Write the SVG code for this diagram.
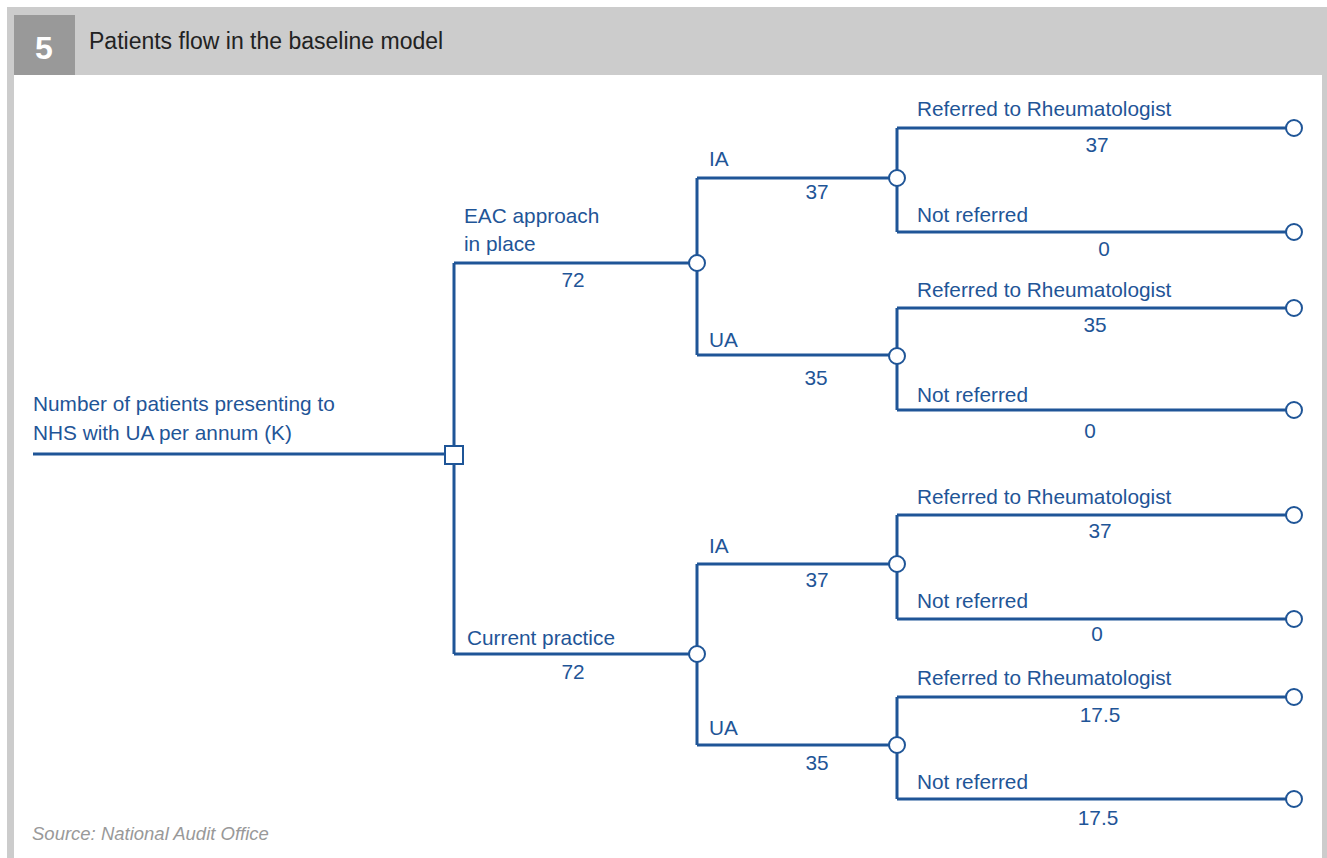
<svg xmlns="http://www.w3.org/2000/svg" width="1327" height="858" viewBox="0 0 1327 858">
<style>
.t{font-family:"Liberation Sans",Arial,sans-serif;font-size:20.8px;fill:#1f5597}
.m{text-anchor:middle}
.ln{stroke:#1f5597;stroke-width:3;fill:none}
.nd{stroke:#1f5597;stroke-width:2;fill:#fff}
</style>
<rect x="0" y="0" width="1327" height="858" fill="#fff"/>
<rect x="7" y="7" width="1320" height="68" fill="#cccccc"/>
<rect x="7" y="75" width="7" height="783" fill="#cccccc"/>
<rect x="1322" y="75" width="5" height="783" fill="#cccccc"/>
<rect x="14" y="15" width="61" height="60" fill="#999999"/>
<text x="44" y="59" text-anchor="middle" font-family="Liberation Sans,Arial,sans-serif" font-weight="bold" font-size="32" fill="#fff">5</text>
<text x="89" y="49" font-family="Liberation Sans,Arial,sans-serif" font-size="23" fill="#222">Patients flow in the baseline model</text>
<g id="connectors">
<path class="ln" d="M33 454H445 M454 263V654 M454 263H689 M454 654H689"/>
<path class="ln" d="M697 178V355 M697 178H889 M697 355H889 M697 564V745 M697 564H889 M697 745H889"/>
<path class="ln" d="M897 128V232 M897 128H1286 M897 232H1286 M897 308V410 M897 308H1286 M897 410H1286 M897 515V619 M897 515H1286 M897 619H1286 M897 697V799 M897 697H1286 M897 799H1286"/>
</g>
<g id="root"><rect class="nd" x="445" y="446" width="18" height="18"/>
<text class="t" x="33" y="411">Number of patients presenting to</text>
<text class="t" x="33" y="440">NHS with UA per annum (K)</text></g>
<g id="eac"><circle class="nd" cx="697" cy="263" r="8"/>
<text class="t" x="464" y="223">EAC approach</text><text class="t" x="464" y="251">in place</text><text class="t m" x="573" y="287">72</text></g>
<g id="current"><circle class="nd" cx="697" cy="654" r="8"/>
<text class="t" x="467" y="645">Current practice</text><text class="t m" x="573" y="679">72</text></g>
<g id="eac-ia"><circle class="nd" cx="897" cy="178" r="8"/>
<text class="t" x="709" y="166">IA</text><text class="t m" x="817" y="199">37</text></g>
<g id="eac-ua"><circle class="nd" cx="897" cy="356" r="8"/>
<text class="t" x="709" y="347">UA</text><text class="t m" x="816" y="385">35</text></g>
<g id="cur-ia"><circle class="nd" cx="897" cy="564" r="8"/>
<text class="t" x="709" y="553">IA</text><text class="t m" x="817" y="587">37</text></g>
<g id="cur-ua"><circle class="nd" cx="897" cy="745" r="8"/>
<text class="t" x="709" y="735">UA</text><text class="t m" x="817" y="770">35</text></g>
<g id="l1"><circle class="nd" cx="1294" cy="128" r="8"/>
<text class="t" x="917" y="116">Referred to Rheumatologist</text><text class="t m" x="1097" y="152">37</text></g>
<g id="l2"><circle class="nd" cx="1294" cy="232" r="8"/>
<text class="t" x="917" y="222">Not referred</text><text class="t m" x="1104" y="256">0</text></g>
<g id="l3"><circle class="nd" cx="1294" cy="308" r="8"/>
<text class="t" x="917" y="297">Referred to Rheumatologist</text><text class="t m" x="1095" y="332">35</text></g>
<g id="l4"><circle class="nd" cx="1294" cy="410" r="8"/>
<text class="t" x="917" y="402">Not referred</text><text class="t m" x="1090" y="438">0</text></g>
<g id="l5"><circle class="nd" cx="1294" cy="515" r="8"/>
<text class="t" x="917" y="504">Referred to Rheumatologist</text><text class="t m" x="1100" y="538">37</text></g>
<g id="l6"><circle class="nd" cx="1294" cy="619" r="8"/>
<text class="t" x="917" y="608">Not referred</text><text class="t m" x="1097" y="641">0</text></g>
<g id="l7"><circle class="nd" cx="1294" cy="697" r="8"/>
<text class="t" x="917" y="685">Referred to Rheumatologist</text><text class="t m" x="1100" y="722">17.5</text></g>
<g id="l8"><circle class="nd" cx="1294" cy="799" r="8"/>
<text class="t" x="917" y="789">Not referred</text><text class="t m" x="1098" y="825">17.5</text></g>
<text x="32" y="840" font-family="Liberation Sans,Arial,sans-serif" font-style="italic" font-size="18.5" fill="#999">Source: National Audit Office</text>
</svg>
